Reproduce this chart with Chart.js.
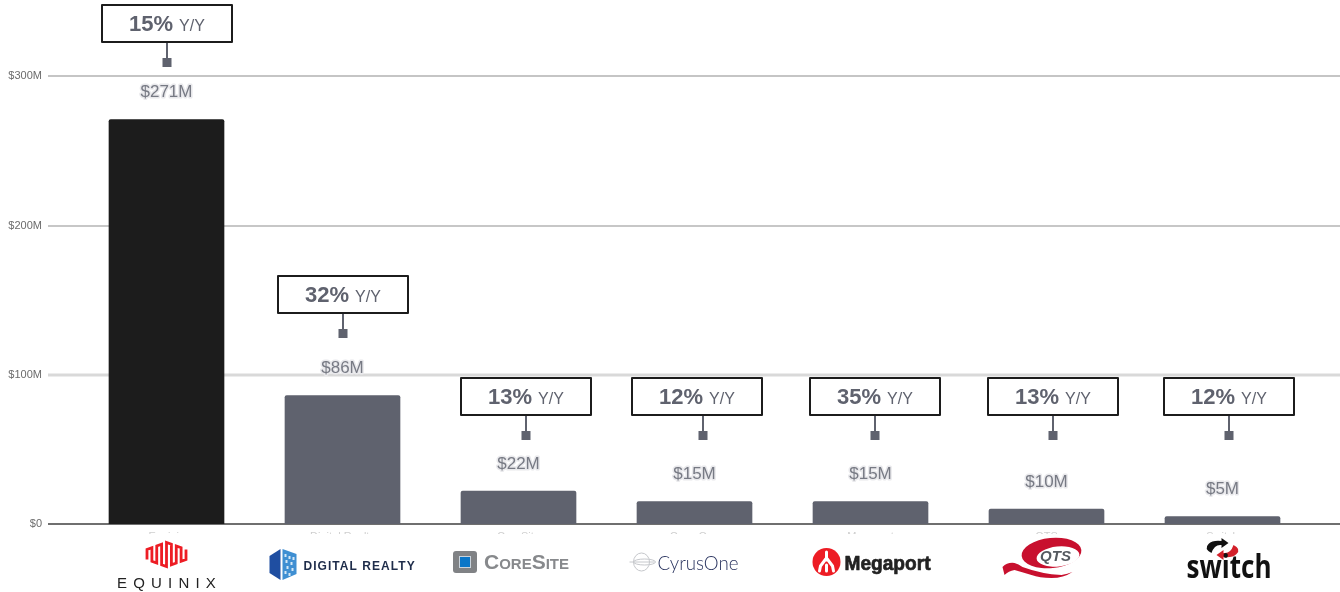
<!DOCTYPE html>
<html>
<head>
<meta charset="utf-8">
<style>html,body{margin:0;padding:0;background:#fff;overflow:hidden}canvas{display:block}</style>
<script src="https://cdn.jsdelivr.net/npm/chart.js@4"></script>
</head>
<body>
<canvas id="c" width="1340" height="592" style="width:1340px;height:592px"></canvas>
<script>
const categories = ["Equinix","Digital Realty","CoreSite","CyrusOne","Megaport","QTS","Switch"];
const revenueM = [271,86,22,15,15,10,5];
const growthPct = [15,32,13,12,35,13,12];
const yTicks = [0,100,200,300];

const FONT = '"Liberation Sans", Arial, sans-serif';
const SLATE = '#5f626e', INK = '#1c1c1c';

const gridPlugin = {
  id:'extendedGrid',
  beforeDatasetsDraw(chart){
    const {ctx,scales:{y}} = chart;
    const styles = {0:['#6f6f6f',2],100:['#d9d9d9',3],200:['#b5b5b5',1.5],300:['#b2b2b2',1.5]};
    ctx.save();
    yTicks.forEach(v=>{
      const py = Math.round(y.getPixelForValue(v));
      ctx.strokeStyle = styles[v][0]; ctx.lineWidth = styles[v][1];
      ctx.beginPath(); ctx.moveTo(48,py); ctx.lineTo(1340,py); ctx.stroke();
    });
    ctx.restore();
  }
};

const calloutPlugin = {
  id:'callouts',
  afterDatasetsDraw(chart,args,opts){
    const {ctx,scales:{x,y}} = chart;
    ctx.save();
    revenueM.forEach((v,i)=>{
      const c = x.getPixelForValue(i);
      const py = y.getPixelForValue(v);
      // value label
      ctx.font = '17px '+FONT; ctx.textAlign='center'; ctx.textBaseline='middle';
      ctx.lineJoin='round'; ctx.lineWidth=3; ctx.strokeStyle='#e9e9ec';
      const lbl = '$'+v+'M';
      ctx.strokeText(lbl,c,py-27);
      ctx.fillStyle='#777a84'; ctx.fillText(lbl,c,py-27);
      // callout
      const top = opts.boxTop[i];
      const bx = Math.round(c+opts.boxShift[i]);
      const sx = Math.round(c+opts.stemShift[i]);
      ctx.strokeStyle=SLATE; ctx.lineWidth=2;
      ctx.beginPath(); ctx.moveTo(sx,top+38); ctx.lineTo(sx,top+56); ctx.stroke();
      ctx.fillStyle=SLATE; ctx.fillRect(sx-4.5,top+54,9,9);
      ctx.fillStyle='#fff'; ctx.strokeStyle=INK; ctx.lineWidth=2;
      ctx.fillRect(bx-65,top+1,130,37); ctx.strokeRect(bx-65,top+1,130,37);
      const a = growthPct[i]+'%', b = 'Y/Y';
      ctx.textAlign='left'; ctx.textBaseline='alphabetic';
      ctx.font='bold 22px '+FONT; const wa=ctx.measureText(a).width;
      ctx.font='16px '+FONT; const wb=ctx.measureText(b).width;
      const sp=6, start=bx-(wa+sp+wb)/2, base=top+27;
      ctx.fillStyle=SLATE;
      ctx.font='bold 22px '+FONT; ctx.fillText(a,start,base);
      ctx.font='16px '+FONT; ctx.fillText(b,start+wa+sp,base);
    });
    ctx.restore();
  }
};

function spaced(ctx,txt,x,y,ls){ctx.letterSpacing=ls+'px';ctx.fillText(txt,x,y);ctx.letterSpacing='0px';}
function poly(ctx,o,pts){ctx.beginPath();pts.forEach((p,k)=>k?ctx.lineTo(p[0]+o,p[1]):ctx.moveTo(p[0]+o,p[1]));ctx.closePath();ctx.fill();}

const logoDrawers = [
  function(ctx,c){ // Equinix
    ctx.strokeStyle='#ed1c24';ctx.lineWidth=2.8;ctx.lineJoin='miter';
    ctx.beginPath();
    const cols=[-19.5,-14.6,-9.75,-4.9,0,4.9,9.75,14.6,19.5];
    cols.forEach((dx,k)=>{
      const top=542.5+Math.abs(dx)*0.36, bot=566.5-Math.abs(dx)*0.36;
      const A=k%2?top:bot, B=k%2?bot:top;
      if(k===0) ctx.moveTo(c+dx,A); else ctx.lineTo(c+dx,A);
      ctx.lineTo(c+dx,B);
    });
    ctx.stroke();
    ctx.fillStyle='#222';ctx.font='15px '+FONT;ctx.textAlign='center';ctx.textBaseline='alphabetic';
    spaced(ctx,'EQUINIX',c+3,588,6.2);
  },
  function(ctx,c){ // Digital Realty
    const o=c-343;
    ctx.fillStyle='#1f4ea1';
    poly(ctx,o,[[270,556],[281,549],[281,580],[270,573]]);
    ctx.fillStyle='#3f8fd2';
    poly(ctx,o,[[283,549],[297,554],[297,574],[283,580]]);
    ctx.fillStyle='#d5e8f6';
    [[285,554],[289,556],[293,557],[286,560],[291,562],[287,566],[292,568],[285,571],[289,573]].forEach(p=>ctx.fillRect(p[0]+o,p[1],2,3));
    ctx.fillStyle='#1e2c4a';ctx.font='bold 12px '+FONT;ctx.textAlign='left';ctx.textBaseline='alphabetic';
    spaced(ctx,'DIGITAL REALTY',304+o,570,1.05);
  },
  function(ctx,c){ // CoreSite
    const o=c-518.5;
    ctx.fillStyle='#808285';ctx.beginPath();ctx.roundRect(453+o,551,24,22,3);ctx.fill();
    ctx.fillStyle='#c9d3dc';ctx.fillRect(459+o,556,12,12);
    ctx.fillStyle='#0a76c8';ctx.fillRect(460+o,557,10,10);
    ctx.fillStyle='#87898c';ctx.font='small-caps bold 21px '+FONT;ctx.textAlign='left';ctx.textBaseline='alphabetic';
    ctx.fillText('CoreSite',484+o,569,85);
  },
  function(ctx,c){ // CyrusOne
    const o=c-695;
    ctx.strokeStyle='#c6c8cc';ctx.lineWidth=1;
    ctx.beginPath();ctx.ellipse(642+o,562,8,9,0,0,Math.PI*2);ctx.stroke();
    ctx.beginPath();ctx.moveTo(630+o,562);ctx.lineTo(655+o,562);ctx.stroke();
    ctx.beginPath();ctx.ellipse(645+o,562,11,3,0,0,Math.PI*2);ctx.stroke();
    ctx.fillStyle='#2b3560';ctx.font='300 20.5px Lato, '+FONT;ctx.textAlign='left';ctx.textBaseline='alphabetic';
    ctx.fillText('CyrusOne',658+o,570,81);
  },
  function(ctx,c){ // Megaport
    const o=c-871;
    ctx.fillStyle='#ed1c24';ctx.beginPath();ctx.arc(827+o,562,14,0,Math.PI*2);ctx.fill();
    ctx.strokeStyle='#fff';ctx.lineWidth=3;ctx.lineCap='round';
    ctx.beginPath();ctx.moveTo(827+o,552);ctx.lineTo(827+o,560);
    ctx.moveTo(827+o,558);ctx.lineTo(821+o,566);ctx.lineTo(820+o,571);
    ctx.moveTo(827+o,558);ctx.lineTo(833+o,566);ctx.lineTo(834+o,571);
    ctx.moveTo(827+o,565);ctx.lineTo(827+o,571);ctx.stroke();ctx.lineCap='butt';
    ctx.fillStyle='#222';ctx.strokeStyle='#222';ctx.lineWidth=0.7;ctx.lineJoin='round';
    ctx.font='bold 21px '+FONT;ctx.textAlign='left';ctx.textBaseline='alphabetic';
    ctx.strokeText('Megaport',845+o,570,86);
    ctx.fillText('Megaport',845+o,570,86);
  },
  function(ctx,c){ // QTS
    const o=c-1047, R='#c8102e';
    ctx.fillStyle=R;
    ctx.beginPath();ctx.ellipse(1052+o,553,30,15,-0.1,0,Math.PI*2);ctx.fill();
    ctx.beginPath();ctx.moveTo(1003+o,567);
    ctx.quadraticCurveTo(1008+o,562,1015+o,563);
    ctx.quadraticCurveTo(1019+o,564,1023+o,567);
    ctx.quadraticCurveTo(1042+o,574,1062+o,575);
    ctx.quadraticCurveTo(1068+o,574,1073+o,572);
    ctx.quadraticCurveTo(1064+o,578,1052+o,578);
    ctx.quadraticCurveTo(1040+o,578,1032+o,575);
    ctx.quadraticCurveTo(1022+o,572,1015+o,570);
    ctx.quadraticCurveTo(1009+o,571,1005+o,575);
    ctx.closePath();ctx.fill();
    ctx.fillStyle='#fff';
    ctx.beginPath();ctx.ellipse(1058.5+o,556.5,21.5,10,-0.1,0,Math.PI*2);ctx.fill();
    ctx.fillStyle='#555a60';ctx.font='italic bold 15px '+FONT;ctx.textAlign='center';ctx.textBaseline='middle';
    ctx.fillText('QTS',1056+o,557);
  },
  function(ctx,c){ // Switch
    const o=c-1223;
    ctx.fillStyle='#111';ctx.beginPath();
    ctx.moveTo(1212+o,553);ctx.quadraticCurveTo(1204+o,549,1209+o,544);
    ctx.quadraticCurveTo(1213+o,540,1222+o,541);ctx.lineTo(1222+o,538);ctx.lineTo(1229+o,543);
    ctx.lineTo(1222+o,548);ctx.lineTo(1222+o,545);ctx.quadraticCurveTo(1215+o,544,1212+o,553);
    ctx.closePath();ctx.fill();
    ctx.fillStyle='#d3202a';ctx.beginPath();
    ctx.moveTo(1234+o,545);ctx.quadraticCurveTo(1242+o,549,1237+o,554);
    ctx.quadraticCurveTo(1233+o,558,1224+o,557);ctx.lineTo(1224+o,560);ctx.lineTo(1217+o,555);
    ctx.lineTo(1224+o,550);ctx.lineTo(1224+o,553);ctx.quadraticCurveTo(1231+o,554,1234+o,545);
    ctx.closePath();ctx.fill();
    ctx.fillStyle='#111';ctx.font='bold 32px "Open Sans", '+FONT;ctx.textAlign='center';ctx.textBaseline='alphabetic';
    ctx.fillText('switch',1229.5+o,578,85);
  }
];

const logoPlugin = {
  id:'logos',
  afterDraw(chart){
    const {ctx,scales:{x}} = chart;
    ctx.save();
    ctx.fillStyle='#fff';ctx.fillRect(0,534,1340,58);
    categories.forEach((n,i)=>{
      ctx.save(); logoDrawers[i](ctx,x.getPixelForValue(i)); ctx.restore();
    });
    ctx.restore();
  }
};

new Chart(document.getElementById('c'),{
  type:'bar',
  data:{labels:categories,datasets:[{
    data:revenueM,
    backgroundColor:revenueM.map((v,i)=>i===0?INK:SLATE),
    barThickness:115,
    borderRadius:{topLeft:2,topRight:2},
    borderSkipped:'bottom'
  }]},
  options:{
    responsive:false,animation:false,
    layout:{padding:{top:76.25,right:29.5,left:0,bottom:0}},
    plugins:{
      legend:{display:false},tooltip:{enabled:false},
      callouts:{
        boxTop:[4,275,377,377,377,377,377],
        boxShift:[0,0,7,2,4,6,6],
        stemShift:[0,0,7,8,4,6,6]
      }
    },
    scales:{
      x:{
        grid:{display:false,drawTicks:false},border:{display:false},
        ticks:{color:'#cfcfcf',font:{family:'"Liberation Sans"',size:11},padding:6,maxRotation:0,autoSkip:false},
        afterFit(s){s.height=68;}
      },
      y:{
        min:0,max:300,
        afterBuildTicks(s){s.ticks=yTicks.map(v=>({value:v}));},
        grid:{display:false,drawTicks:false},border:{display:false},
        ticks:{color:'#6b6b6b',font:{family:'"Liberation Sans"',size:11},padding:36.5,
          callback:v=>'$'+v+(v?'M':'')},
        afterFit(s){s.width=78.5;}
      }
    }
  },
  plugins:[gridPlugin,calloutPlugin,logoPlugin]
});
</script>
</body>
</html>
